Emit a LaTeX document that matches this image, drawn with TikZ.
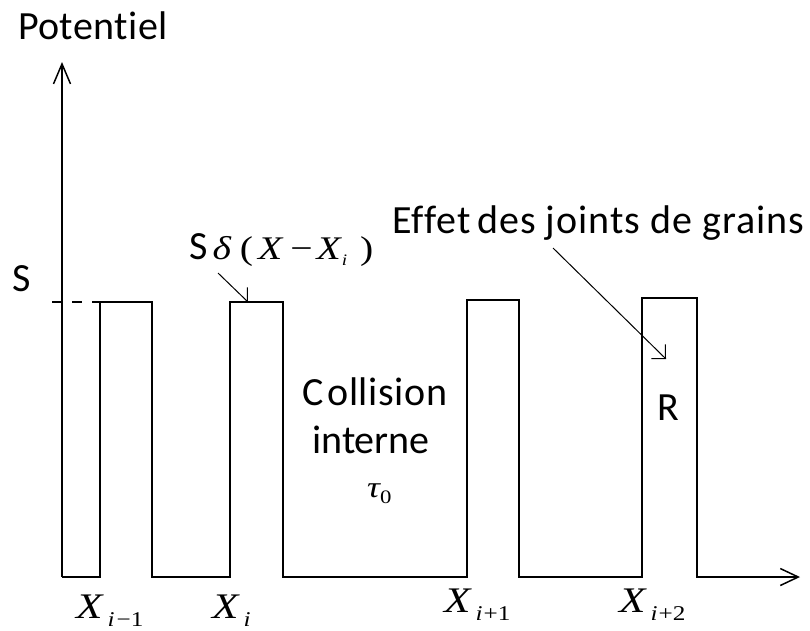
\documentclass[tikz,border=0pt]{standalone}
\usepackage{fontspec}
\setmainfont{Carlito}[Ligatures=NoCommon]
\newfontfamily\mserif{Liberation Serif}[FakeStretch=1.2]
\usetikzlibrary{arrows.meta}
\newcommand\xlab[1]{{\fontsize{36}{36}\selectfont\mserif\itshape X}\hspace{5pt}\raisebox{-8pt}{\fontsize{21}{21}\selectfont\mserif #1}}
\begin{document}
\begin{tikzpicture}[x=1pt,y=-1pt,
  lbl/.style={anchor=base west, inner sep=0pt, font=\fontsize{40}{40}\selectfont},
  mlbl/.style={anchor=base west, inner sep=0pt},
  axis/.style={line width=1.5pt, -{Straight Barb[length=20pt,width=17pt,line width=1.5pt]}},
  wave/.style={line width=1.5pt, line join=miter},
  note/.style={line width=1pt, -{Straight Barb[length=10pt,width=20pt,line width=1pt]}},
  guide/.style={line width=1.5pt, dash pattern=on 10pt off 10pt}
]
\useasboundingbox (0,0) rectangle (810,630);

% axes and potential profile
\coordinate (O) at (62,577);
\coordinate (Ytop) at (62,62);
\coordinate (Xend) at (800,577);
\draw[axis] (O) -- (Ytop);
\draw[wave, -{Straight Barb[length=18pt,width=17pt,line width=1.5pt]}]
  (O) -- (100,577) -- (100,302) -- (152,302) -- (152,577)
  -- (230,577) -- (230,302) -- (283,302) -- (283,577)
  -- (467,577) -- (467,300) -- (519,300) -- (519,577)
  -- (642,577) -- (642,298) -- (697,298) -- (697,577) -- (Xend);

% level S guide
\coordinate (gs) at (52,302);
\coordinate (ge) at (100,302);
\draw[guide] (gs) -- (ge);

% labels
\node[lbl] (pot) at (18,39) {\addfontfeature{LetterSpace=1}Potentiel};
\node[lbl] (S) at (12,291) {S};
\node[lbl] (sdelta) at (189,259) {S\hspace{5pt}{\fontsize{33}{33}\selectfont\mserif{\itshape δ}\hspace{9pt}(\hspace{5pt}{\itshape X}\hspace{8pt}−\hspace{4pt}{\itshape X}\hspace{1pt}\raisebox{-6pt}{\fontsize{16}{16}\selectfont\itshape i}\hspace{13pt})}};
\node[lbl] (effet) at (392,233) {\addfontfeature{LetterSpace=2.5}Effet\,des joints de grains};
\node[lbl] (coll) at (302,405) {\addfontfeature{LetterSpace=1.5}C\kern4pt ollision};
\node[lbl] (int) at (312,453) {interne};
\node[mlbl] (tau) at (367,497) {\fontsize{30}{30}\selectfont\mserif\itshape τ\raisebox{-6pt}{\fontsize{19}{19}\selectfont\upshape 0}};
\node[lbl] (R) at (657,420) {R};

\node[mlbl] (x1) at (76,618) {\xlab{{\itshape i}\hspace{2pt}−1}};
\node[mlbl] (x2) at (212,618) {\xlab{{\itshape i}}};
\node[mlbl] (x3) at (444,612) {\xlab{{\itshape i}\hspace{1pt}+1}};
\node[mlbl] (x4) at (619,612) {\xlab{{\itshape i}\hspace{1pt}+2}};

% annotation arrows
\coordinate (sdstart) at (218,273);
\coordinate (sdtip) at (248,302);
\draw[note] (sdstart) -- (sdtip);
\coordinate (effstart) at (553,248);
\coordinate (efftip) at (666,359);
\draw[note] (effstart) -- (efftip);
\end{tikzpicture}
\end{document}
